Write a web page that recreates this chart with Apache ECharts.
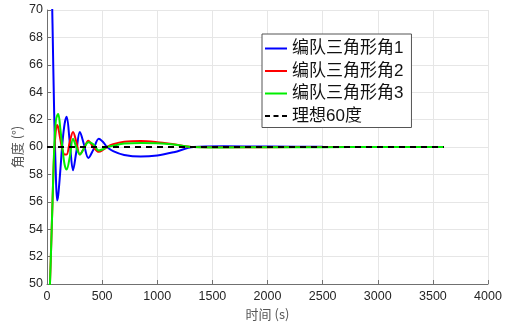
<!DOCTYPE html>
<html>
<head>
<meta charset="utf-8">
<script src="https://cdn.jsdelivr.net/npm/echarts@6/dist/echarts.min.js"></script>
<style>
  html, body { margin: 0; padding: 0; background: #fff; }
  #chart { width: 516px; height: 326px; }
</style>
</head>
<body>
<div id="chart"></div>
<script>
// Time samples (s) for the three formation-triangle angles
const timeSec = [0, 20, 35, 50, 65, 80, 92, 102, 120, 140, 160, 178, 207, 236, 265, 298, 335, 375, 420, 470, 510, 545, 600, 700, 850, 1000, 1150, 1330, 1600, 2000, 2500, 3000, 3600];

// Angle values (degrees) at each time sample
const angle1 = [90, 81, 75, 69, 62.5, 58, 56.1, 56.5, 58.2, 60.3, 61.7, 62.2, 60.3, 58.3, 59.6, 61.1, 60.2, 59.2, 59.8, 60.6, 60.35, 60.0, 59.7, 59.42, 59.3, 59.38, 59.62, 60.0, 60.05, 60.03, 60.01, 60, 60];
const angle2 = [45, 48.5, 52, 56, 59.5, 61.2, 61.6, 61.4, 60.6, 59.8, 59.45, 59.45, 60.4, 61.1, 60.4, 59.45, 59.9, 60.46, 60.0, 59.65, 59.8, 60.0, 60.2, 60.38, 60.43, 60.35, 60.2, 60.0, 59.98, 59.99, 60, 60, 60];
const angle3 = [45, 48.5, 52, 56, 59.8, 61.9, 62.3, 62.4, 61.4, 59.9, 58.7, 58.35, 59.3, 60.6, 60.0, 59.45, 59.9, 60.34, 60.2, 59.75, 59.85, 60.0, 60.1, 60.25, 60.3, 60.27, 60.18, 60.0, 59.97, 59.98, 59.99, 60, 60];

// Ideal reference angle and its time span
const idealTime = [0, 3600];
const idealAngle = [60, 60];

const seriesNames = ['编队三角形角1', '编队三角形角2', '编队三角形角3', '理想60度'];

// Axis ranges and tick steps
const xRange = [0, 4000], xStep = 500;
const yRange = [50, 70], yStep = 2;

const pairs = (xs, ys) => xs.map((x, i) => [x, ys[i]]);

// Legend keys: a solid stroke and a dashed stroke
const solidKey = 'path://M0,0h22v2h-22z';
const dashedKey = 'path://M0,0h5v2h-5z M8.5,0h5v2h-5z M17,0h5v2h-5z';

const chart = echarts.init(document.getElementById('chart'), null, { renderer: 'canvas' });

const lineSeries = (name, xs, ys, color, dashed) => ({
  name: name,
  type: 'line',
  data: pairs(xs, ys),
  symbol: 'none',
  smooth: dashed ? false : 0.35,
  clip: true,
  lineStyle: { color: color, width: 2, type: dashed ? [6, 5] : 'solid' },
  itemStyle: { color: color },
  emphasis: { disabled: true },
  animation: false
});

chart.setOption({
  backgroundColor: '#ffffff',
  animation: false,
  grid: { left: 47, right: 28, top: 10, bottom: 38, containLabel: false },
  legend: {
    orient: 'vertical',
    left: 262,
    top: 34,
    padding: [6, 8, 3, 3],
    backgroundColor: '#ffffff',
    borderColor: '#555555',
    borderWidth: 1,
    borderRadius: 0,
    itemWidth: 22,
    itemHeight: 2,
    itemGap: 5.5,
    data: [
      { name: seriesNames[0], icon: solidKey, itemStyle: { color: '#0000ff' } },
      { name: seriesNames[1], icon: solidKey, itemStyle: { color: '#ff0000' } },
      { name: seriesNames[2], icon: solidKey, itemStyle: { color: '#00ee00' } },
      { name: seriesNames[3], icon: dashedKey, itemStyle: { color: '#000000' } }
    ],
    textStyle: {
      fontSize: 17,
      lineHeight: 17,
      color: '#111111',
      fontFamily: 'Liberation Sans, Noto Sans CJK SC, sans-serif'
    }
  },
  xAxis: {
    type: 'value',
    min: xRange[0],
    max: xRange[1],
    interval: xStep,
    name: '时间 (s)',
    nameLocation: 'middle',
    nameGap: 24,
    nameTextStyle: { fontSize: 13, color: '#555555', fontFamily: 'Noto Sans CJK SC, Liberation Sans, sans-serif' },
    axisLine: { show: true, onZero: false, lineStyle: { color: '#707070', width: 1 } },
    axisTick: { show: true, inside: true, length: 4, lineStyle: { color: '#707070' } },
    axisLabel: { fontSize: 12.5, color: '#262626', margin: 6, fontFamily: 'Liberation Sans, Arial, sans-serif', formatter: v => String(v) },
    splitLine: { show: true, lineStyle: { color: '#e6e6e6', width: 1 } }
  },
  yAxis: {
    type: 'value',
    min: yRange[0],
    max: yRange[1],
    interval: yStep,
    name: '角度 (°)',
    nameLocation: 'middle',
    nameGap: 23,
    nameMoveOverlap: false,
    nameTextStyle: { fontSize: 13, color: '#555555', fontFamily: 'Noto Sans CJK SC, Liberation Sans, sans-serif' },
    axisLine: { show: true, onZero: false, lineStyle: { color: '#707070', width: 1 } },
    axisTick: { show: true, inside: true, length: 4, lineStyle: { color: '#707070' } },
    axisLabel: { fontSize: 12.5, color: '#262626', margin: 4, fontFamily: 'Liberation Sans, Arial, sans-serif' },
    splitLine: { show: true, lineStyle: { color: '#e6e6e6', width: 1 } }
  },
  series: [
    lineSeries(seriesNames[0], timeSec, angle1, '#0000ff', false),
    lineSeries(seriesNames[1], timeSec, angle2, '#ff0000', false),
    lineSeries(seriesNames[2], timeSec, angle3, '#00ee00', false),
    lineSeries(seriesNames[3], idealTime, idealAngle, '#000000', true)
  ]
});
</script>
</body>
</html>
